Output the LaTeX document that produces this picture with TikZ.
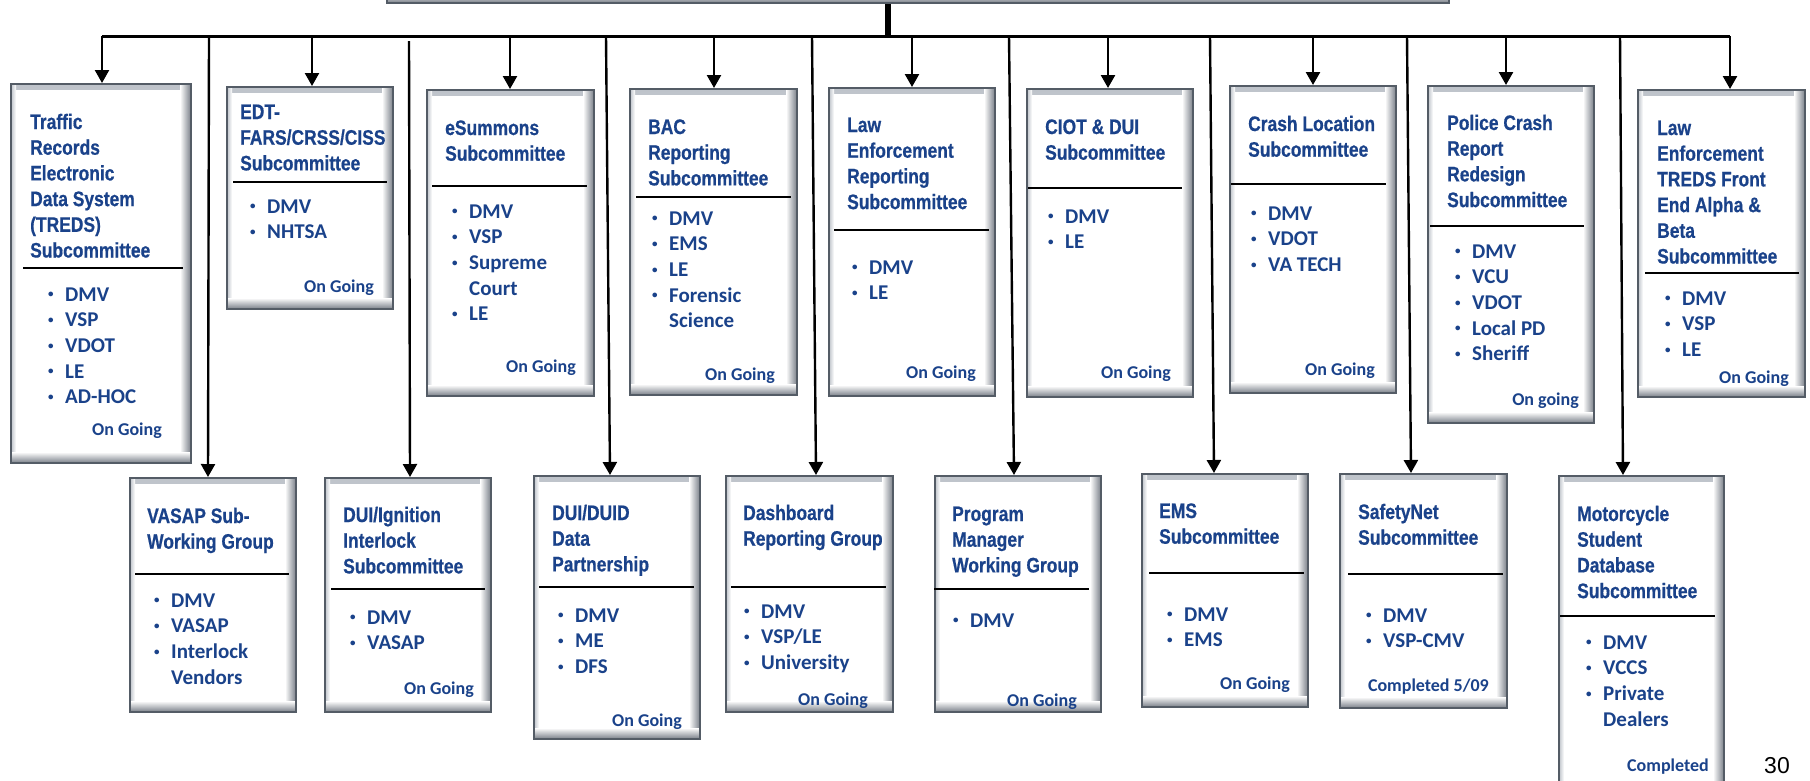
\documentclass[tikz,border=0pt]{standalone}
\usepackage{fontspec}
\setmainfont{Carlito}
\newfontfamily\titlefam[FakeStretch=0.83,BoldFeatures={FakeBold=0.6}]{Liberation Sans}
\newfontfamily\numfam{Liberation Sans}
\usetikzlibrary{arrows.meta,fit}
\definecolor{txt}{RGB}{26,66,138}
\definecolor{boxedge}{RGB}{84,92,102}
\definecolor{bevdk}{RGB}{120,126,135}
\definecolor{bevlt}{RGB}{190,195,202}
\newcommand\ttlfont{\titlefam\bfseries\fontsize{21}{25.7}\selectfont}
\newcommand\lstfont{\bfseries\fontsize{21}{25.7}\selectfont}
\newcommand\stfont{\bfseries\fontsize{18}{20}\selectfont}
\newcommand\bu{\makebox[19pt][l]{\hspace*{2pt}\raisebox{3.2pt}{\fontsize{11}{11}\selectfont •}}}
\newcommand\cu{\hspace*{19pt}}
\newcommand\mkttl[4]{\node[txtnode] (#1) at (#2,#3) {\parbox[t]{175pt}{\raggedright\ttlfont #4}};}
\newcommand\mklst[4]{\node[txtnode] (#1) at (#2-5,#3) {\parbox[t]{175pt}{\raggedright\lstfont #4}};}
\newcommand\mkst[4]{\node[stnode] (#1) at (#2,#3) {#4};}
\begin{document}
\begin{tikzpicture}[x=1pt,y=-1pt,
  box/.style={draw=boxedge, line width=2pt, fill=white, inner sep=0pt,
    path picture={
      \shade[top color=bevlt, bottom color=white] (path picture bounding box.north west) rectangle ([yshift=-5pt]path picture bounding box.north east);
      \shade[left color=bevlt, right color=white] (path picture bounding box.north west) rectangle ([xshift=5pt]path picture bounding box.south west);
      \shade[left color=white, right color=bevdk] ([xshift=-11pt]path picture bounding box.north east) rectangle (path picture bounding box.south east);
      \shade[top color=white, bottom color=bevdk] ([yshift=11pt]path picture bounding box.south west) rectangle (path picture bounding box.south east);
    }},
  arr/.style={line width=2.4pt, -{Triangle[length=13pt,width=14pt]}},
  busline/.style={line width=3pt},
  stemline/.style={line width=6pt},
  divline/.style={line width=2.8pt},
  txtnode/.style={anchor=base west, inner sep=0pt, text=txt},
  stnode/.style={anchor=base east, inner sep=0pt, text=txt, font=\stfont},
  ]
\useasboundingbox (0,0) rectangle (1810,780);
\clip (0,0) rectangle (1810,780);

% boxes
\node[box, fit={(387,-40) (1449,3)}] (root) {};
\node[box, fit={(11,84) (191,463)}] (b1) {};
\node[box, fit={(227,87) (393,309)}] (b2) {};
\node[box, fit={(427,90) (594,396)}] (b3) {};
\node[box, fit={(630,89) (797,395)}] (b4) {};
\node[box, fit={(829,88) (995,396)}] (b5) {};
\node[box, fit={(1027,89) (1193,397)}] (b6) {};
\node[box, fit={(1230,86) (1396,393)}] (b7) {};
\node[box, fit={(1428,86) (1594,423)}] (b8) {};
\node[box, fit={(1638,90) (1805,397)}] (b9) {};
\node[box, fit={(130,478) (296,712)}] (b10) {};
\node[box, fit={(325,478) (491,712)}] (b11) {};
\node[box, fit={(534,476) (700,739)}] (b12) {};
\node[box, fit={(726,476) (893,712)}] (b13) {};
\node[box, fit={(935,476) (1101,712)}] (b14) {};
\node[box, fit={(1142,474) (1308,707)}] (b15) {};
\node[box, fit={(1340,474) (1507,708)}] (b16) {};
\node[box, fit={(1559,476) (1724,800)}] (b17) {};

% dividers
\draw[divline] (23,268) -- (183,268);
\draw[divline] (233,182) -- (387,182);
\draw[divline] (432,186) -- (587,186);
\draw[divline] (636,197) -- (791,197);
\draw[divline] (834,230) -- (989,230);
\draw[divline] (1028,188) -- (1182,188);
\draw[divline] (1231,184) -- (1386,184);
\draw[divline] (1430,226) -- (1584,226);
\draw[divline] (1645,273) -- (1799,273);
\draw[divline] (135,574) -- (289,574);
\draw[divline] (331,589) -- (485,589);
\draw[divline] (539,587) -- (694,587);
\draw[divline] (731,587) -- (886,587);
\draw[divline] (934,589) -- (1089,589);
\draw[divline] (1149,573) -- (1304,573);
\draw[divline] (1348,574) -- (1503,574);
\draw[divline] (1560,616) -- (1715,616);

% titles
\mkttl{t1}{30}{129}{Traffic\\Records\\Electronic\\Data System\\(TREDS)\\Subcommittee}
\mkttl{t2}{240}{119}{EDT-\\FARS/CRSS/CISS\\Subcommittee}
\mkttl{t3}{445}{135}{eSummons\\Subcommittee}
\mkttl{t4}{648}{134}{BAC\\Reporting\\Subcommittee}
\mkttl{t5}{847}{132}{Law\\Enforcement\\Reporting\\Subcommittee}
\mkttl{t6}{1045}{134}{CIOT \& DUI\\Subcommittee}
\mkttl{t7}{1248}{131}{Crash Location\\Subcommittee}
\mkttl{t8}{1447}{130}{Police Crash\\Report\\Redesign\\Subcommittee}
\mkttl{t9}{1657}{135}{Law\\Enforcement\\TREDS Front\\End Alpha \&\\Beta\\Subcommittee}
\mkttl{t10}{147}{523}{VASAP Sub-\\Working Group}
\mkttl{t11}{343}{522}{DUI/Ignition\\Interlock\\Subcommittee}
\mkttl{t12}{552}{520}{DUI/DUID\\Data\\Partnership}
\mkttl{t13}{743}{520}{Dashboard\\Reporting Group}
\mkttl{t14}{952}{521}{Program\\Manager\\Working Group}
\mkttl{t15}{1159}{518}{EMS\\Subcommittee}
\mkttl{t16}{1358}{519}{SafetyNet\\Subcommittee}
\mkttl{t17}{1577}{521}{Motorcycle\\Student\\Database\\Subcommittee}

% member lists
\mklst{m1}{51}{301}{\bu DMV\\\bu VSP\\\bu VDOT\\\bu LE\\\bu AD-HOC}
\mklst{m2}{253}{213}{\bu DMV\\\bu NHTSA}
\mklst{m3}{455}{218}{\bu DMV\\\bu VSP\\\bu Supreme\\\cu Court\\\bu LE}
\mklst{m4}{655}{225}{\bu DMV\\\bu EMS\\\bu LE\\\bu Forensic\\\cu Science}
\mklst{m5}{855}{274}{\bu DMV\\\bu LE}
\mklst{m6}{1051}{223}{\bu DMV\\\bu LE}
\mklst{m7}{1254}{220}{\bu DMV\\\bu VDOT\\\bu VA TECH}
\mklst{m8}{1458}{258}{\bu DMV\\\bu VCU\\\bu VDOT\\\bu Local PD\\\bu Sheriff}
\mklst{m9}{1668}{305}{\bu DMV\\\bu VSP\\\bu LE}
\mklst{m10}{157}{607}{\bu DMV\\\bu VASAP\\\bu Interlock\\\cu Vendors}
\mklst{m11}{353}{624}{\bu DMV\\\bu VASAP}
\mklst{m12}{561}{622}{\bu DMV\\\bu ME\\\bu DFS}
\mklst{m13}{747}{618}{\bu DMV\\\bu VSP/LE\\\bu University}
\mklst{m14}{956}{627}{\bu DMV}
\mklst{m15}{1170}{621}{\bu DMV\\\bu EMS}
\mklst{m16}{1369}{622}{\bu DMV\\\bu VSP-CMV}
\mklst{m17}{1589}{649}{\bu DMV\\\bu VCCS\\\bu Private\\\cu Dealers}

% status
\mkst{s1}{162}{435}{On Going}
\mkst{s2}{374}{292}{On Going}
\mkst{s3}{576}{372}{On Going}
\mkst{s4}{775}{380}{On Going}
\mkst{s5}{976}{378}{On Going}
\mkst{s6}{1171}{378}{On Going}
\mkst{s7}{1375}{375}{On Going}
\mkst{s8}{1579}{405}{On going}
\mkst{s9}{1789}{383}{On Going}
\mkst{s11}{474}{694}{On Going}
\mkst{s12}{682}{726}{On Going}
\mkst{s13}{868}{705}{On Going}
\mkst{s14}{1077}{706}{On Going}
\mkst{s15}{1290}{689}{On Going}
\mkst{s16}{1489}{691}{Completed 5/09}
\mkst{s17}{1709}{771}{Completed}

% page number
\node[anchor=base east, inner sep=0pt, font=\numfam\fontsize{23}{23}\selectfont] (pg) at (1790,773) {30};

% connectors
\coordinate (busL) at (102,36);
\coordinate (busR) at (1730,36);
\draw[busline] (busL) -- (busR);
\coordinate (st) at (888,36);
\draw[stemline] (st |- root.south) -- (st);

\foreach \n/\x in {1/102,2/312,3/510,4/714,5/912,6/1108,7/1313,8/1506,9/1730}{
  \coordinate (a\n) at (\x,36);
  \draw[arr] (a\n) -- (a\n |- b\n.north);
}
\foreach \n/\xa/\ya/\xb in {10/209/36/208,11/409/41/410,12/606/36/610,13/812/36/816,14/1009/36/1014,15/1210/36/1214,16/1407/36/1411,17/1620/36/1623}{
  \coordinate (l\n) at (\xa,\ya);
  \coordinate (e\n) at (\xb,0);
  \draw[arr] (l\n) -- (e\n |- b\n.north);
}
\end{tikzpicture}
\end{document}
